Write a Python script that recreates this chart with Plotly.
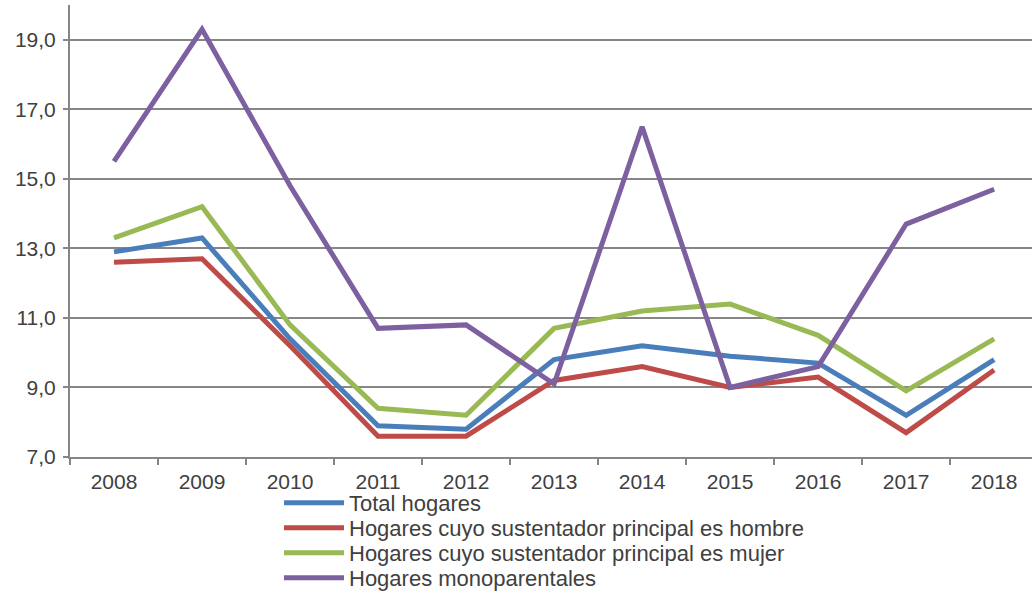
import plotly.graph_objects as go

# === Datos
anios = ['2008', '2009', '2010', '2011', '2012', '2013', '2014', '2015', '2016', '2017', '2018']
total_hogares = [12.9, 13.3, 10.4, 7.9, 7.8, 9.8, 10.2, 9.9, 9.7, 8.2, 9.8]
sustentador_hombre = [12.6, 12.7, 10.2, 7.6, 7.6, 9.2, 9.6, 9.0, 9.3, 7.7, 9.5]
sustentador_mujer = [13.3, 14.2, 10.8, 8.4, 8.2, 10.7, 11.2, 11.4, 10.5, 8.9, 10.4]
monoparentales = [15.5, 19.3, 14.8, 10.7, 10.8, 9.1, 16.5, 9.0, 9.6, 13.7, 14.7]

series = [
    ('Total hogares', total_hogares, '#4A7EBB'),
    ('Hogares cuyo sustentador principal es hombre', sustentador_hombre, '#BE4B48'),
    ('Hogares cuyo sustentador principal es mujer', sustentador_mujer, '#98B954'),
    ('Hogares monoparentales', monoparentales, '#7D60A0'),
]

gris = '#868686'
fuente = dict(family='Liberation Sans, Arial, sans-serif', size=21, color='#404040')
fuente_leyenda = dict(family='Liberation Sans, Arial, sans-serif', size=22, color='#404040')

# área de trazado en píxeles (para ubicar las leyendas debajo)
izq, arriba, abajo, ancho_plot, alto_plot = 70, 5, 457, 962, 452

fig = go.Figure()
# una leyenda por serie para poder ajustar el espaciado entre filas
leyendas = ['legend', 'legend2', 'legend3', 'legend4']
for i, (nombre, valores, color) in enumerate(series):
    fig.add_trace(go.Scatter(x=anios, y=valores, mode='lines', name=nombre,
                             line=dict(color=color, width=5), legend=leyendas[i]))

layout_leyendas = {}
for i, ley in enumerate(leyendas):
    fila_px = 503 + 25 * i
    layout_leyendas[ley] = dict(x=(279 - izq) / ancho_plot, y=(abajo - fila_px) / alto_plot,
                                xanchor='left', yanchor='middle',
                                font=fuente_leyenda, itemwidth=60,
                                bgcolor='rgba(0,0,0,0)')

fig.update_layout(
    width=1032, height=591,
    margin=dict(l=izq, r=0, t=arriba, b=591 - abajo, autoexpand=False),
    plot_bgcolor='white',
    paper_bgcolor='white',
    separators=',.',
    font=fuente,
    showlegend=True,
    xaxis=dict(type='category', range=[-0.5, 10.43], showline=True, linecolor=gris, linewidth=2,
               ticks='outside', ticklen=6, tickcolor=gris, tickwidth=2, tickson='boundaries',
               showgrid=False, tickfont=fuente, automargin=False, ticklabelstandoff=5,
               tickangle=0),
    yaxis=dict(range=[7, 20], tickvals=[7, 9, 11, 13, 15, 17, 19], tickformat='.1f',
               showline=True, linecolor=gris, linewidth=2, ticks='outside', ticklen=5,
               tickcolor=gris, tickwidth=2, showgrid=True, gridcolor=gris, gridwidth=2,
               zeroline=False, tickfont=fuente, automargin=False, ticklabelstandoff=3),
    **layout_leyendas,
)

# quitar el margen por defecto del body para que la figura empiece en (0, 0)
fig.write_html("out.html", config={'displayModeBar': False},
               post_script="document.body.style.margin='0';")
